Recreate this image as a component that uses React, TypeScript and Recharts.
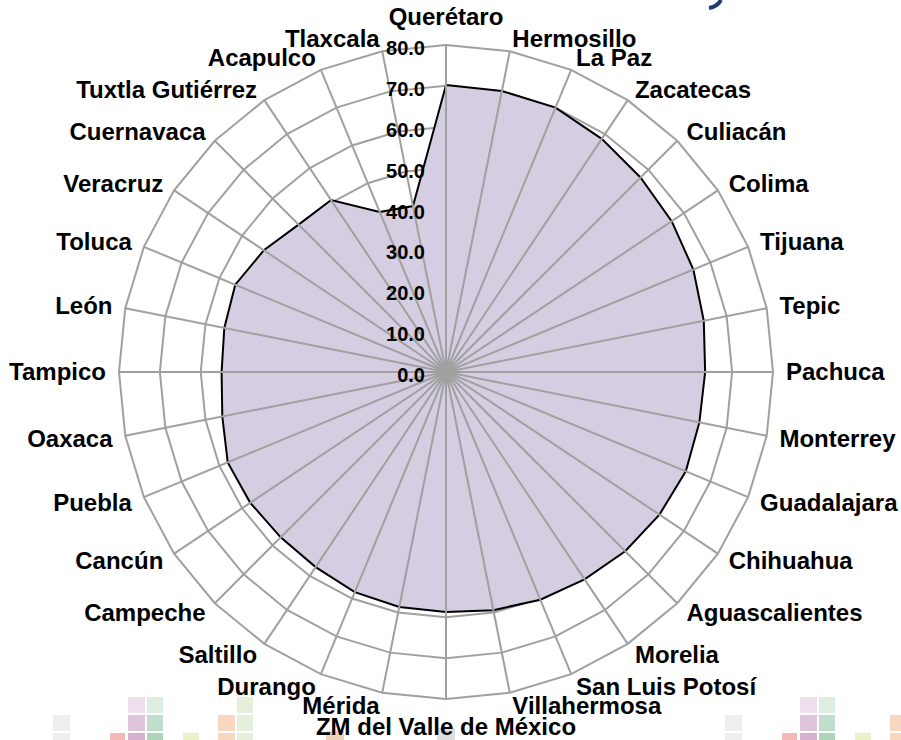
import { RadarChart, Radar, PolarGrid, PolarAngleAxis, PolarRadiusAxis } from 'recharts';

// cities, clockwise from the top
const cities = [
  'Querétaro', 'Hermosillo', 'La Paz', 'Zacatecas', 'Culiacán', 'Colima', 'Tijuana', 'Tepic',
  'Pachuca', 'Monterrey', 'Guadalajara', 'Chihuahua', 'Aguascalientes', 'Morelia', 'San Luis Potosí', 'Villahermosa',
  'ZM del Valle de México', 'Mérida', 'Durango', 'Saltillo', 'Campeche', 'Cancún', 'Puebla', 'Oaxaca',
  'Tampico', 'León', 'Toluca', 'Veracruz', 'Cuernavaca', 'Tuxtla Gutiérrez', 'Acapulco', 'Tlaxcala',
];

const values = [
  70.2, 70.1, 70.0, 68.6, 67.3, 66.4, 65.5, 64.3,
  63.4, 63.2, 63.5, 62.8, 62.0, 61.0, 60.3, 59.4,
  58.7, 58.6, 58.3, 57.4, 57.2, 57.6, 57.8, 55.8,
  54.9, 55.3, 55.8, 53.6, 51.0, 50.6, 42.4, 41.4,
];

const radiusTicks = [0, 10, 20, 30, 40, 50, 60, 70, 80];

const data = cities.map((city, i) => ({ city, value: values[i] }));

const FONT = '"Liberation Sans", Arial, Helvetica, sans-serif';
const OUTER = 327;

// labels placed just outside the outer ring (the axis ticks point inward,
// so x/y from recharts are at the centre — rebuild the spot from cx/cy)
function CityTick(props: any) {
  const { cx, cy, radius, payload } = props;
  const rad = (payload.coordinate * Math.PI) / 180;
  const cos = Math.cos(rad);
  const sin = Math.sin(rad);
  const vertical = Math.abs(cos) < 0.01;
  const r = (radius ?? OUTER) + (vertical ? 28 : 13);
  const anchor = vertical ? 'middle' : cos > 0 ? 'start' : 'end';
  return (
    <text
      x={cx + r * cos}
      y={cy - r * sin}
      dy="0.35em"
      textAnchor={anchor}
      fontFamily={FONT}
      fontWeight="bold"
      fontSize={24}
      fill="#000"
    >
      {payload.value}
    </text>
  );
}

function ValueTick(props: any) {
  const { x, y, payload } = props;
  return (
    <text x={x - 21} y={y + 10} textAnchor="end" fontFamily={FONT} fontWeight="bold" fontSize={20} fill="#000">
      {Number(payload.value).toFixed(1)}
    </text>
  );
}

// faded logo squares behind the chart
function Watermark() {
  const col = (x: number, w: number, rows: (string | null)[], key: string) =>
    rows.map((c, r) =>
      c ? <rect key={key + r} x={x} y={697 + r * 18} width={w} height={16} fill={c} /> : null
    );
  const group = (dx: number, k: string) => (
    <g key={k} transform={`translate(${dx},0)`}>
      {col(53, 17, [null, '#eeeeee', '#eeeeee'], k + 'a')}
      {col(110, 15, [null, null, '#f5b8b8'], k + 'b')}
      {col(128, 17, ['#efe0ee', '#dfc5dc', '#d6b0cf'], k + 'c')}
      {col(147, 16, ['#deeee3', '#bfdfcb', '#acd6bc'], k + 'd')}
      {col(183, 16, [null, null, '#eaf1c6'], k + 'e')}
      {col(218, 17, [null, '#f8d7c1', '#f8d7c1'], k + 'f')}
      {col(237, 16, ['#e4f0d9', '#e4f0d9', '#e4f0d9'], k + 'g')}
    </g>
  );
  return (
    <svg width={901} height={740} style={{ position: 'absolute', left: 0, top: 0 }}>
      {group(0, 'l')}
      {group(672, 'r')}
      <rect x={326} y={731} width={18} height={9} fill="#ecd2b8" />
      <rect x={437} y={728} width={18} height={12} fill="#dedede" />
      <path d="M709 8 Q717 7 721 0" stroke="#1f3b6e" strokeWidth={4} fill="none" />
    </svg>
  );
}

export default function App() {
  return (
    <div style={{ position: 'absolute', left: 0, top: 0, width: 901, height: 740, background: '#fff' }}>
      <Watermark />
      <div style={{ position: 'absolute', left: 0, top: 0 }}>
        <RadarChart width={901} height={740} data={data} cx={446} cy={372} outerRadius={OUTER} margin={{ top: 0, right: 0, bottom: 0, left: 0 }}>
          <PolarGrid gridType="polygon" radialLines={false} stroke="#a0a0a0" strokeWidth={2} />
          <Radar dataKey="value" stroke="#000" strokeWidth={2} fill="#d5cde2" fillOpacity={1} dot={false} isAnimationActive={false} />
          <PolarAngleAxis
            dataKey="city"
            orientation="inner"
            tickSize={OUTER}
            tickLine={{ stroke: '#a0a0a0', strokeWidth: 2 }}
            axisLine={false}
            tick={<CityTick />}
          />
          <PolarRadiusAxis
            angle={90}
            type="number"
            domain={[0, 80]}
            ticks={radiusTicks}
            tickCount={9}
            tick={<ValueTick />}
            axisLine={false}
            tickLine={false}
          />
        </RadarChart>
      </div>
    </div>
  );
}
